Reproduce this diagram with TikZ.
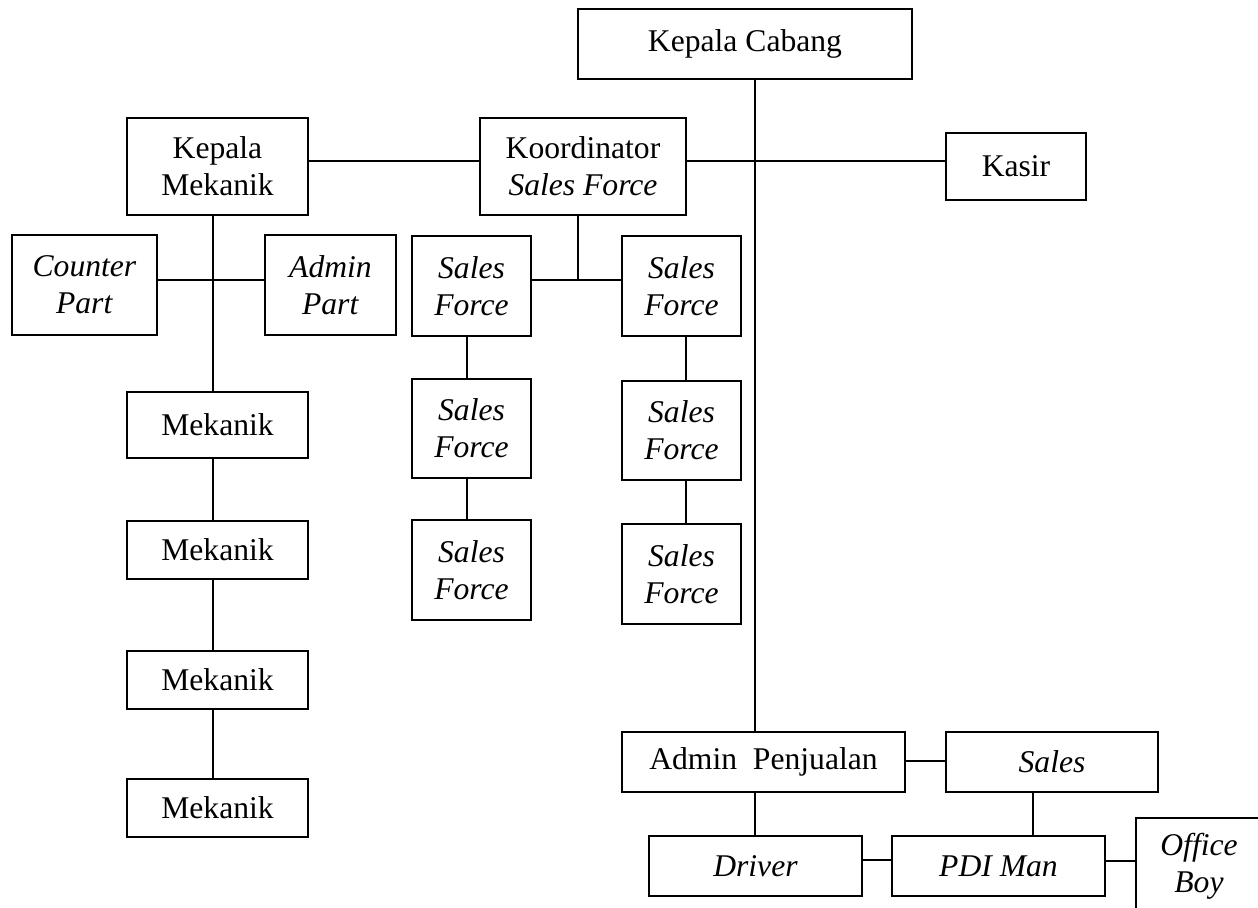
\documentclass[tikz,border=0pt]{standalone}
\usepackage{fontspec}
\setmainfont{Liberation Serif}
\begin{document}
\begin{tikzpicture}[x=0.02cm,y=-0.02cm,
  box/.style 2 args={draw, line width=1.1pt, inner sep=0pt, align=center,
    minimum width=#1*0.02cm, minimum height=#2*0.02cm,
    font=\fontsize{18}{21}\selectfont},
  link/.style={line width=1.1pt}]
\useasboundingbox (0,0) rectangle (1258,908);
\clip (0,0) rectangle (1258,908);
% nodes
\node[box={334}{70}] (kc) at (745,44) {Kepala Cabang};
\node[box={181}{97}] (km) at (217.5,166.5) {Kepala\\Mekanik};
\node[box={206}{97}] (ko) at (583,166.5) {Koordinator\\\textit{Sales Force}};
\node[box={140}{67}] (kasir) at (1016,166.5) {Kasir};
\node[box={145}{100}] (cp) at (84.5,285) {\textit{Counter}\\\textit{Part}};
\node[box={131}{100}] (ap) at (330.5,285) {\textit{Admin}\\\textit{Part}};
\node[box={119}{100}] (sf1) at (471.5,286) {\textit{Sales}\\\textit{Force}};
\node[box={119}{100}] (sf2) at (681.5,286) {\textit{Sales}\\\textit{Force}};
\node[box={119}{99}] (sf3) at (471.5,428.5) {\textit{Sales}\\\textit{Force}};
\node[box={119}{99}] (sf4) at (681.5,430.5) {\textit{Sales}\\\textit{Force}};
\node[box={119}{100}] (sf5) at (471.5,570) {\textit{Sales}\\\textit{Force}};
\node[box={119}{100}] (sf6) at (681.5,574) {\textit{Sales}\\\textit{Force}};
\node[box={181}{66}] (m1) at (217.5,425) {Mekanik};
\node[box={181}{58}] (m2) at (217.5,550) {Mekanik};
\node[box={181}{58}] (m3) at (217.5,680) {Mekanik};
\node[box={181}{58}] (m4) at (217.5,808) {Mekanik};
\node[box={283}{60}] (adm) at (763.5,762) {Admin\ \ Penjualan};
\node[box={212}{60}] (sales) at (1052,762) {\textit{Sales}};
\node[box={213}{60}] (drv) at (755.5,866) {\textit{Driver}};
\node[box={213}{60}] (pdi) at (998.5,866) {\textit{PDI Man}};
\node[box={126}{96}] (ob) at (1199,866) {\textit{Office}\\\textit{Boy}};
% guide coordinates for connector lines
\coordinate (vmain) at (755,0);
\coordinate (vkm) at (213,0);
\coordinate (vko) at (578,0);
\coordinate (vsl) at (467,0);
\coordinate (vsr) at (686,0);
\coordinate (vsp) at (1033,0);
\coordinate (htop) at (0,161);
\coordinate (hpart) at (0,280);
\coordinate (hsf) at (0,280);
\coordinate (hadm) at (0,761);
\coordinate (hdrv) at (0,860);
\coordinate (hob) at (0,861);
% connectors
\draw[link] (vmain |- kc.south) -- (vmain |- adm.north);
\draw[link] (vmain |- adm.south) -- (vmain |- drv.north);
\draw[link] (km.east |- htop) -- (ko.west |- htop);
\draw[link] (ko.east |- htop) -- (kasir.west |- htop);
\draw[link] (vkm |- km.south) -- (vkm |- m1.north);
\draw[link] (cp.east |- hpart) -- (ap.west |- hpart);
\draw[link] (vkm |- m1.south) -- (vkm |- m2.north);
\draw[link] (vkm |- m2.south) -- (vkm |- m3.north);
\draw[link] (vkm |- m3.south) -- (vkm |- m4.north);
\draw[link] (vko |- ko.south) -- (vko |- hsf);
\draw[link] (sf1.east |- hsf) -- (sf2.west |- hsf);
\draw[link] (vsl |- sf1.south) -- (vsl |- sf3.north);
\draw[link] (vsl |- sf3.south) -- (vsl |- sf5.north);
\draw[link] (vsr |- sf2.south) -- (vsr |- sf4.north);
\draw[link] (vsr |- sf4.south) -- (vsr |- sf6.north);
\draw[link] (adm.east |- hadm) -- (sales.west |- hadm);
\draw[link] (vsp |- sales.south) -- (vsp |- pdi.north);
\draw[link] (drv.east |- hdrv) -- (pdi.west |- hdrv);
\draw[link] (pdi.east |- hob) -- (ob.west |- hob);
\end{tikzpicture}
\end{document}
